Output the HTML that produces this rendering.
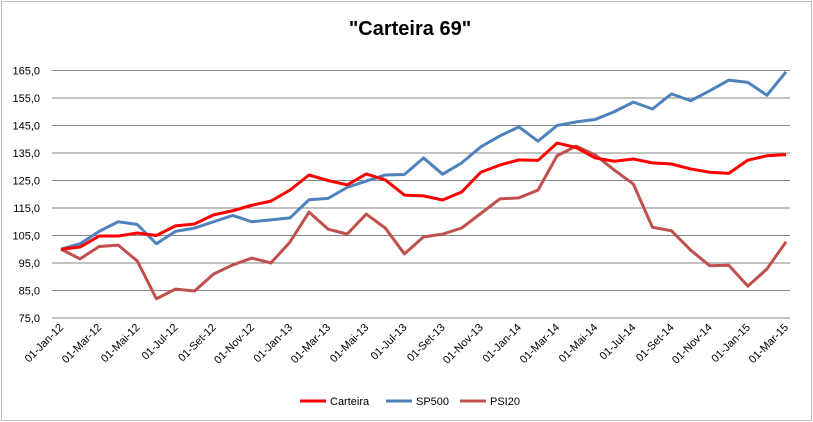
<!DOCTYPE html>
<html><head><meta charset="utf-8"><style>
html,body{margin:0;padding:0;background:#fff;}
svg{display:block;font-family:"Liberation Sans",sans-serif;}
</style></head><body>
<svg id="chart" width="813" height="422" viewBox="0 0 813 422">
<rect x="1.5" y="1.5" width="810" height="419" fill="#fff" stroke="#bfbfbf"/>
<text x="410" y="35" text-anchor="middle" font-size="20" font-weight="bold" fill="#000">"Carteira 69"</text>
<g id="grid"></g><g id="ylabels"></g><g id="xlabels"></g><g id="series"></g>
<g>
<line x1="300" y1="401" x2="326" y2="401" stroke="#ff0000" stroke-width="3"/>
<text x="330" y="405" font-size="11">Carteira</text>
<line x1="386" y1="401" x2="412" y2="401" stroke="#4f81bd" stroke-width="3"/>
<text x="416" y="405" font-size="11">SP500</text>
<line x1="460" y1="401" x2="486" y2="401" stroke="#c0504d" stroke-width="3"/>
<text x="490" y="405" font-size="11">PSI20</text>
</g>
</svg>
<script>
const months=["01-Jan-12","01-Fev-12","01-Mar-12","01-Abr-12","01-Mai-12","01-Jun-12","01-Jul-12","01-Ago-12","01-Set-12","01-Out-12","01-Nov-12","01-Dez-12","01-Jan-13","01-Fev-13","01-Mar-13","01-Abr-13","01-Mai-13","01-Jun-13","01-Jul-13","01-Ago-13","01-Set-13","01-Out-13","01-Nov-13","01-Dez-13","01-Jan-14","01-Fev-14","01-Mar-14","01-Abr-14","01-Mai-14","01-Jun-14","01-Jul-14","01-Ago-14","01-Set-14","01-Out-14","01-Nov-14","01-Dez-14","01-Jan-15","01-Fev-15","01-Mar-15"];
const carteira=[100,100.8,104.8,104.8,105.9,105,108.5,109.2,112.5,114,116,117.5,121.5,127,125,123.4,127.4,125.2,119.7,119.4,117.9,120.8,128,130.6,132.5,132.3,138.6,137,133.2,132,132.8,131.4,131,129.2,128,127.6,132.4,134,134.4];
const sp500=[100,102,106.5,110,109,102,106.5,107.7,110,112.3,110,110.7,111.4,118,118.5,122.5,124.8,127,127.2,133.2,127.3,131.4,137.2,141.2,144.5,139.3,145,146.3,147.2,150,153.5,151,156.5,154,157.6,161.5,160.7,156,164.5];
const psi20=[100,96.5,101,101.5,95.7,82,85.5,84.8,91,94.3,96.8,95,102.6,113.5,107.3,105.5,112.8,107.7,98.3,104.5,105.5,107.7,113,118.3,118.7,121.5,134,137.5,134.3,128.8,123.7,108,106.7,99.7,94,94.2,86.6,92.8,102.7];
const yTicks=[75,85,95,105,115,125,135,145,155,165];
const NS="http://www.w3.org/2000/svg";
const x=i=>61+i*(786-61)/(months.length-1);
const y=v=>318-(v-75)*2.75;
function mk(t,a,p){const e=document.createElementNS(NS,t);for(const k in a)e.setAttribute(k,a[k]);p.appendChild(e);return e;}
const grid=document.getElementById('grid'),yl=document.getElementById('ylabels'),xl=document.getElementById('xlabels'),sg=document.getElementById('series');
yTicks.forEach(t=>{
 const l=mk('line',{x1:52,x2:790,y1:y(t),y2:y(t),stroke:'#868686','stroke-width':1},grid);
 
 
 const tx=mk('text',{x:40,y:y(t)+4,'text-anchor':'end','font-size':11,fill:'#000'},yl);
 tx.textContent=t.toFixed(1).replace('.',',');
 
 
});
months.forEach((m,i)=>{
 if(i%2)return;
 const tx=mk('text',{x:x(i)+3,y:328,'text-anchor':'end','font-size':11,transform:`rotate(-45 ${x(i)+3} 328)`},xl);
 tx.textContent=m;
 
 
});
[[psi20,'#c0504d','psi20-line'],[sp500,'#4f81bd','sp500-line'],[carteira,'#ff0000','carteira-line']].forEach(([d,c,n])=>{
 const p=mk('polyline',{points:d.map((v,i)=>x(i)+','+y(v)).join(' '),fill:'none',stroke:c,'stroke-width':3,'stroke-linejoin':'round'},sg);
 
 
});
</script>
</body></html>
